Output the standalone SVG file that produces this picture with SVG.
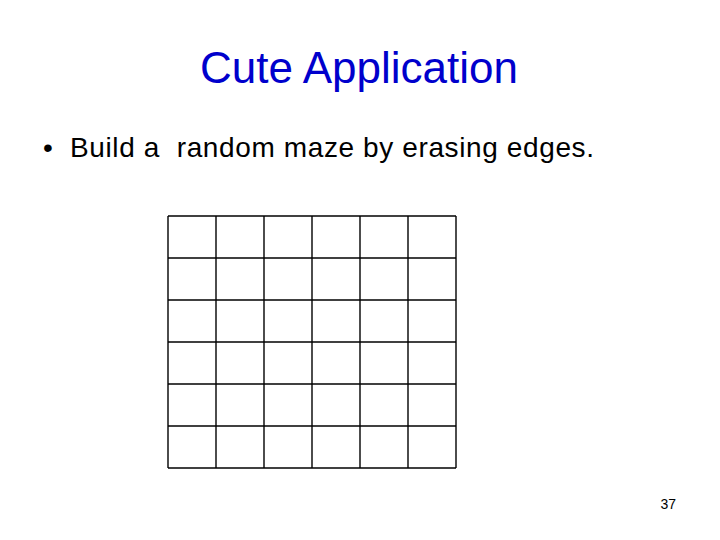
<svg xmlns="http://www.w3.org/2000/svg" width="720" height="540" viewBox="0 0 720 540">
<style>
text { font-family: "Liberation Sans", Arial, sans-serif; }
.title { font-size: 44px; fill: #0000CC; }
.body { font-size: 28px; fill: #000; }
.num { font-size: 14px; fill: #000; }
.grid line { stroke: #000; stroke-width: 1.4; }
</style>
<rect width="720" height="540" fill="#fff"/>
<text class="title" x="359" y="83" text-anchor="middle">Cute Application</text>
<text class="body" x="43" y="157">•</text>
<text class="body" x="70" y="157" xml:space="preserve" textLength="524" lengthAdjust="spacing">Build a  random maze by erasing edges.</text>
<g id="grid" class="grid">
<line x1="168" y1="216" x2="456" y2="216"/>
<line x1="168" y1="258" x2="456" y2="258"/>
<line x1="168" y1="300" x2="456" y2="300"/>
<line x1="168" y1="342" x2="456" y2="342"/>
<line x1="168" y1="384" x2="456" y2="384"/>
<line x1="168" y1="426" x2="456" y2="426"/>
<line x1="168" y1="468" x2="456" y2="468"/>
<line x1="168" y1="216" x2="168" y2="468"/>
<line x1="216" y1="216" x2="216" y2="468"/>
<line x1="264" y1="216" x2="264" y2="468"/>
<line x1="312" y1="216" x2="312" y2="468"/>
<line x1="360" y1="216" x2="360" y2="468"/>
<line x1="408" y1="216" x2="408" y2="468"/>
<line x1="456" y1="216" x2="456" y2="468"/>
</g>
<text class="num" x="676" y="509" text-anchor="end">37</text>
</svg>
